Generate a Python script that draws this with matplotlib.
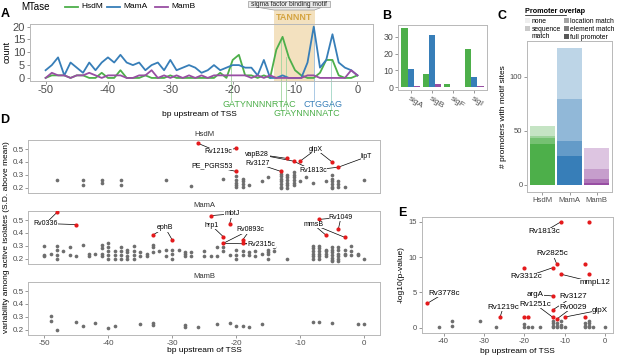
import matplotlib
matplotlib.use('Agg')
import matplotlib.pyplot as plt
import numpy as np
from matplotlib.patches import Polygon, Rectangle
from matplotlib.lines import Line2D

plt.rcParams['font.family'] = ['Liberation Sans', 'DejaVu Sans']
plt.rcParams['axes.unicode_minus'] = False

# ---------------- data ----------------
mtases = ['HsdM', 'MamA', 'MamB']
positions = list(range(-50, 1))
A_hsdm = [0, 1, 1, 1, 0, 1, 1, 0, 0, 2,
          0, 0, 3, 0, 0, 0, 1, 0, 0, 0,
          1, 0, 0, 0, 0, 0, 0, 0, 2, 0,
          7, 9, 1, 1, 0, 1, 0, 11, 16, 8,
          3, 1, 0, 0, 2, 7, 7, 1, 0, 0, 1]
A_mama = [3, 5, 8, 1, 6, 4, 2, 6, 3, 6,
          8, 6, 9, 6, 5, 6, 3, 5, 6, 3,
          7, 3, 4, 5, 4, 2, 3, 5, 3, 4,
          5, 5, 4, 4, 1, 7, 0, 0, 1, 0,
          0, 0, 6, 20, 4, 7, 17, 6, 4, 3, 1]
A_mamb = [0, 2, 1, 1, 0, 1, 1, 2, 1, 0,
          1, 1, 1, 0, 0, 1, 1, 3, 0, 1,
          0, 1, 0, 1, 0, 1, 0, 1, 1, 1,
          1, 1, 1, 0, 1, 0, 1, 0, 0, 0,
          0, 0, 1, 1, 0, 0, 0, 0, 0, 3, 1]
A_xticks = [-50, -40, -30, -20, -10, 0]
A_yticks = [0, 5, 10, 15, 20]

B_sigma = ['sigA', 'sigB', 'sigF', 'sigI']
B_hsdm = [35, 8, 2, 23]
B_mama = [11, 31, 0, 6]
B_mamb = [1, 2, 0, 1]
B_yticks = [0, 10, 20, 30]

C_levels = ['full promoter', 'element match', 'location match', 'sequence match', 'none']
C_alpha = [1.0, 0.775, 0.55, 0.325, 0.1]
C_hsdm = [38, 5, 2, 9, 0]
C_mama = [27, 14, 38, 48, 0]
C_mamb = [2, 3, 10, 19, 0]
C_yticks = [0, 50, 100]

# Panel D: grey points per facet
D_hsdm_grey_x = [-48, -44, -44, -41, -41, -38, -38, -31, -27, -22,
                 -20, -20, -20, -20, -20, -19, -19, -19, -19, -18, -16, -15,
                 -13, -13, -13, -13, -13, -13, -13, -12, -12, -12, -12, -12, -12,
                 -11, -11, -11, -11, -11, -11, -10, -9, -8, -6,
                 -5, -5, -5, -5, -5, -5, -4, -4, -4, -3, 0]
D_hsdm_grey_y = [0.26, 0.26, 0.22, 0.26, 0.24, 0.26, 0.22, 0.26, 0.215, 0.27,
                 0.29, 0.26, 0.24, 0.22, 0.21, 0.27, 0.25, 0.23, 0.21, 0.22, 0.25, 0.28,
                 0.31, 0.29, 0.27, 0.25, 0.23, 0.21, 0.20, 0.30, 0.28, 0.26, 0.24, 0.22, 0.20,
                 0.32, 0.30, 0.28, 0.26, 0.24, 0.22, 0.25, 0.28, 0.24, 0.25,
                 0.30, 0.27, 0.25, 0.23, 0.21, 0.20, 0.25, 0.23, 0.21, 0.21, 0.26]
D_hsdm_red_x = [-26, -20, -20, -13, -12, -11, -10, -5, -4]
D_hsdm_red_y = [0.545, 0.505, 0.327, 0.327, 0.427, 0.406, 0.406, 0.40, 0.36]
D_hsdm_labels = [('Rv1219c', -22.8, 0.479, [0, 1]), ('PE_PGRS53', -23.8, 0.367, [2]),
                 ('Rv3127', -16.7, 0.388, [3]), ('vapB28', -16.7, 0.461, [4, 5]),
                 ('glpX', -7.5, 0.498, [6, 7]), ('Rv1813c', -8.0, 0.336, [5, 8]),
                 ('lipT', 0.4, 0.44, [8])]

D_mama_grey_x = [-50, -50, -50, -49, -48, -48, -48, -48, -47, -46, -46, -45, -44, -43, -43, -42,
                 -41, -41, -41, -41, -40, -40, -40, -40, -40, -39, -39, -39,
                 -38, -38, -38, -38, -37, -37, -37, -37, -36, -36, -36, -36, -35, -35, -34, -34,
                 -33, -33, -33, -32, -31, -31, -30, -30, -30, -29, -28, -28, -28, -27, -27,
                 -25, -25, -24, -23, -23, -22, -22, -21, -20, -20, -20, -19, -19, -18, -18,
                 -17, -17, -16, -15, -15, -15, -15, -14, -14, -12,
                 -8, -8, -8, -8, -8, -8, -7, -7, -7, -7, -7, -7, -6, -6, -6, -6,
                 -5, -5, -5, -5, -5, -5, -5, -4, -4, -4, -4, -4, -4, -3, -3, -3,
                 -2, -2, -2, -1, -1, 0]
D_mama_grey_y = [0.30, 0.23, 0.22, 0.24, 0.30, 0.27, 0.23, 0.20, 0.26, 0.29, 0.23, 0.22, 0.31, 0.24, 0.22, 0.235,
                 0.31, 0.28, 0.24, 0.22, 0.32, 0.29, 0.26, 0.23, 0.20, 0.26, 0.23, 0.20,
                 0.29, 0.26, 0.23, 0.20, 0.27, 0.25, 0.22, 0.20, 0.30, 0.26, 0.23, 0.20, 0.25, 0.22, 0.24, 0.22,
                 0.31, 0.29, 0.25, 0.26, 0.27, 0.22, 0.27, 0.24, 0.20, 0.27, 0.25, 0.235, 0.22, 0.25, 0.225,
                 0.26, 0.225, 0.22, 0.22, 0.29, 0.29, 0.26, 0.23, 0.27, 0.23, 0.20, 0.26, 0.23, 0.25, 0.23,
                 0.26, 0.22, 0.24, 0.27, 0.25, 0.24, 0.20, 0.29, 0.26, 0.20,
                 0.30, 0.28, 0.26, 0.24, 0.22, 0.20, 0.30, 0.28, 0.26, 0.24, 0.22, 0.20, 0.27, 0.26, 0.24, 0.22,
                 0.29, 0.27, 0.25, 0.23, 0.21, 0.19, 0.18, 0.29, 0.27, 0.24, 0.22, 0.20, 0.18, 0.27, 0.24, 0.23,
                 0.30, 0.26, 0.23, 0.24, 0.23, 0.20]
D_mama_red_x = [-48, -45, -33, -30, -24, -21, -22, -22, -19, -19, -7, -4, -6, -3]
D_mama_red_y = [0.56, 0.465, 0.385, 0.347, 0.534, 0.473, 0.371, 0.32, 0.345, 0.32, 0.505, 0.433, 0.385, 0.366]
D_mama_labels = [('Rv0336', -49.8, 0.473, [0, 1]), ('ephB', -31.1, 0.441, [2, 3]),
                 ('mbtJ', -20.6, 0.548, [4, 5]), ('hrp1', -23.9, 0.46, [6]),
                 ('Rv0893c', -17.8, 0.425, [7, 8]), ('Rv2315c', -16.0, 0.313, [7, 9]),
                 ('Rv1049', -3.6, 0.521, [10, 11]), ('mmsB', -7.9, 0.465, [12, 13])]

D_mamb_grey_x = [-49, -49, -48, -45, -44, -42, -40, -39, -35, -33, -33, -28, -28, -26,
                 -23, -21, -20, -19, -18, -16, -8, -7, -5, -1, 0]
D_mamb_grey_y = [0.307, 0.272, 0.20, 0.259, 0.227, 0.25, 0.213, 0.227, 0.246, 0.25, 0.24, 0.24, 0.22, 0.22,
                 0.246, 0.25, 0.227, 0.232, 0.22, 0.246, 0.259, 0.259, 0.25, 0.246, 0.246]
D_yticks = [0.2, 0.3, 0.4, 0.5]
D_xticks = [-50, -40, -30, -20, -10, 0]

E_grey_x = [-41, -38, -38, -31, -27, -20, -20, -19, -18, -16, -13, -13, -13, -13, -12, -12, -12,
            -11, -11, -11, -10, -5, -5, -5, -4, -4, -4, -4, -3, 0]
E_grey_y = [0.1, 1.0, 0.2, 1.0, 0.1, 0.5, 0.1, 0.1, 0.1, 0.1, 0.9, 0.6, 0.3, 0.05, 0.6, 0.3, 0.05,
            0.9, 0.4, 0.05, 0.1, 0.6, 0.3, 0.05, 1.0, 0.6, 0.3, 0.05, 0.1, 0.05]
E_red_x = [-11, -4, -12, -13, -20, -5, -11, -4, -44, -13, -13, -26, -20, -19, -13, -12, -10, -5]
E_red_y = [15, 15, 9.1, 8.5, 8.5, 9.1, 7.6, 7.6, 3.45, 4.5, 2.5, 1.5, 1.5, 1.5, 1.5, 1.2, 1.5, 1.5]
E_labels = [('Rv1813c', -15.1, 13.6, 0), ('Rv2825c', -13.0, 10.5, 2), ('Rv3312c', -19.6, 7.2, 3),
            ('mmpL12', -2.5, 6.4, 6), ('Rv3778c', -39.8, 4.9, 8), ('argA', -17.3, 4.7, 9),
            ('Rv3127', -7.9, 4.4, 10), ('Rv1251c', -17.3, 3.35, 14), ('Rv0029', -8.0, 2.9, 15),
            ('Rv1219c', -25.2, 2.9, 11), ('glpX', -1.2, 2.5, 16)]
E_xticks = [-40, -30, -20, -10, 0]
E_yticks = [0, 5, 10, 15]

# ---------------- helpers ----------------
W, H = 617, 356
fig = plt.figure(figsize=(W / 100, H / 100), dpi=100)

GREEN = '#4DAF4A'; BLUE = '#377EB8'; PURPLE = '#984EA3'; RED = '#E41A1C'; GREY = '#6e6e6e'
TXT = '#4d4d4d'


def axpx(l, t, r, b):
    return fig.add_axes([l / W, 1 - b / H, (r - l) / W, (b - t) / H])


def P(x, y):
    return (x / W, 1 - y / H)


def ftext(x, y, s, **kw):
    return fig.text(x / W, 1 - y / H, s, **kw)


def style(ax, fs):
    for s in ax.spines.values():
        s.set_color('#b8b8b8')
        s.set_linewidth(0.7)
    ax.tick_params(length=2, width=0.5, color='#707070', labelcolor=TXT, labelsize=fs, pad=1.5)


# ---------------- Panel A ----------------
axA = axpx(30, 24, 373, 80.5)
style(axA, 8)
axA.set_xlim(-52.5, 2.5)
axA.set_ylim(-1, 21)
axA.axvspan(-13.3, -6.8, ymin=0, ymax=(80.5 - 10) / (80.5 - 24), color='#f3e1bf',
            lw=0, zorder=0, clip_on=False)
# guide lines to motifs
for gx, gy0, gy1, gc in [(-20.2, 5, -8.6, '#9fd49d'), (-12.2, 15, -12.5, '#9fd49d'),
                         (-11.4, 8, -12.5, '#9fd49d'), (-7, 20, -8.6, '#9cc0e0'),
                         (-4.2, 7, -12.5, '#9fd4c4')]:
    axA.plot([gx, gx], [gy0, gy1], color=gc, lw=0.6, clip_on=False, zorder=1)
axA.plot(positions, A_hsdm, color=GREEN, lw=1.3, zorder=3)
axA.plot(positions, A_mama, color=BLUE, lw=1.3, zorder=3)
axA.plot(positions, A_mamb, color=PURPLE, lw=1.3, zorder=4)
axA.set_xticks(A_xticks)
axA.set_xticklabels([str(v) for v in A_xticks])
axA.set_yticks(A_yticks)
axA.set_yticklabels([str(v) for v in A_yticks])
axA.set_ylabel('count', fontsize=6.5, color='black', labelpad=1)
axA.yaxis.set_label_coords(-0.055, 0.5)

# legend A
ftext(21, 7, 'MTase', fontsize=7, va='center', ha='left')
for (x0, txt, c) in [(65, 'HsdM', GREEN), (107, 'MamA', BLUE), (155, 'MamB', PURPLE)]:
    fig.add_artist(Line2D([x0 / W, (x0 + 13) / W], [1 - 7 / H, 1 - 7 / H], color=c, lw=1.3))
    ftext(x0 + 16, 7, txt, fontsize=6, va='center', ha='left')

# callout
fig.add_artist(Polygon([P(258, 7.3), P(321.7, 7.3), P(314.5, 10), P(274, 10)], closed=True,
                       facecolor='#ececec', edgecolor='#9a9a9a', lw=0.5, transform=fig.transFigure))
fig.add_artist(Rectangle(P(248.3, 7.3), 81.7 / W, 6.6 / H, facecolor='#ececec',
                         edgecolor='#9a9a9a', lw=0.5, transform=fig.transFigure))
ftext(289, 4.1, 'sigma factor binding motif', fontsize=4.8, ha='center', va='center', color='#222222')
ftext(293.7, 17, 'TANNNT', fontsize=6.5, ha='center', va='center', color='#d4a441', fontweight='bold')

# motifs & x label
ftext(259, 104.3, 'GATYNNNNRTAC', fontsize=6.5, ha='center', va='center', color=GREEN)
ftext(322.5, 104.3, 'CTGGAG', fontsize=6.5, ha='center', va='center', color=BLUE)
ftext(306.7, 114, 'GTAYNNNNATC', fontsize=6.5, ha='center', va='center', color=GREEN)
ftext(199, 114, 'bp upstream of TSS', fontsize=6, ha='center', va='center')

# ---------------- Panel B ----------------
axB = axpx(398.3, 25.3, 486.7, 90.3)
style(axB, 6.3)
xb = np.arange(1, len(B_sigma) + 1)
axB.bar(xb - 0.3, B_hsdm, width=0.3, color=GREEN, lw=0)
axB.bar(xb, B_mama, width=0.3, color=BLUE, lw=0)
axB.bar(xb + 0.3, B_mamb, width=0.3, color=PURPLE, lw=0)
axB.set_xlim(0.4, 4.6)
axB.set_ylim(-1.75, 36.75)
axB.set_yticks(B_yticks)
axB.set_yticklabels([str(v) for v in B_yticks])
axB.set_xticks(xb)
axB.set_xticklabels(B_sigma, rotation=-33, ha='left', va='top', rotation_mode='anchor', fontsize=6)

# ---------------- Panel C ----------------
axC = axpx(527.3, 40.7, 611.7, 191.7)
style(axC, 5.5)
xc = np.arange(1, 4)
for vals, col, xi in [(C_hsdm, GREEN, 1), (C_mama, BLUE, 2), (C_mamb, PURPLE, 3)]:
    bottom = 0
    for v, a in zip(vals, C_alpha):
        axC.bar(xi, v, bottom=bottom, width=0.9, color=col, alpha=a, lw=0)
        bottom += v
axC.set_xlim(0.45, 3.55)
axC.set_ylim(-6.35, 133.35)
axC.set_yticks(C_yticks)
axC.set_yticklabels([str(v) for v in C_yticks])
axC.set_xticks(xc)
axC.set_xticklabels(mtases, fontsize=5.5)
axC.set_ylabel('# promoters with motif sites', fontsize=6, labelpad=2)

# legend C
ftext(525, 11.5, 'Promoter overlap', fontsize=5.2, fontweight='bold', ha='left', va='center')
fig.add_artist(Line2D([525 / W, 566 / W], [1 - 15 / H, 1 - 15 / H], color='black', lw=0.5))
leg_items = [('none', 0.1, 525, 20.5), ('sequence\nmatch', 0.325, 525, 28.7),
             ('location match', 0.55, 564, 20.5), ('element match', 0.775, 564, 28.7),
             ('full promoter', 1.0, 564, 36.7)]
for txt, a, lx, ly in leg_items:
    fig.add_artist(Rectangle(P(lx, ly + 2.2), 4.5 / W, 4.4 / H, facecolor='#595959', alpha=a,
                             lw=0, transform=fig.transFigure))
    ftext(lx + 6.5, ly - 2.6, txt, fontsize=4.9, ha='left', va='top', linespacing=0.95)

# ---------------- Panel D ----------------
D_boxes = [(140, 193), (211, 264), (282, 335)]
facet_grey = [(D_hsdm_grey_x, D_hsdm_grey_y), (D_mama_grey_x, D_mama_grey_y), (D_mamb_grey_x, D_mamb_grey_y)]
facet_red = [(D_hsdm_red_x, D_hsdm_red_y, D_hsdm_labels), (D_mama_red_x, D_mama_red_y, D_mama_labels), None]
for i, (t, b) in enumerate(D_boxes):
    ax = axpx(28.3, t, 380, b)
    style(ax, 5.8)
    ax.set_xlim(-52.5, 2.5)
    ax.set_ylim(0.16, 0.57)
    ax.set_yticks(D_yticks)
    ax.set_yticklabels([str(v) for v in D_yticks])
    ax.set_xticks(D_xticks)
    if i < 2:
        ax.tick_params(axis='x', length=0, labelbottom=False)
    else:
        ax.set_xticklabels([str(v) for v in D_xticks])
    gx, gy = facet_grey[i]
    ax.scatter(gx, gy, s=7, color=GREY, lw=0, zorder=2)
    if facet_red[i] is not None:
        rx, ry, labs = facet_red[i]
        for txt, tx, ty, idxs in labs:
            for k in idxs:
                ax.plot([rx[k], tx], [ry[k], ty], color='black', lw=0.5, zorder=3)
            ax.text(tx, ty, txt, fontsize=5, ha='center', va='center', zorder=5,
                    bbox=dict(boxstyle='square,pad=0.05', fc='white', ec='none'))
        ax.scatter(rx, ry, s=9, color=RED, lw=0, zorder=4)
    ax.set_title(mtases[i], fontsize=5.5, color='#333333', pad=3)
ftext(204, 350.7, 'bp upstream of TSS', fontsize=6, ha='center', va='center')
ftext(6.5, 237.5, 'variability among active isolates (S.D. above mean)', fontsize=6,
      ha='center', va='center', rotation=90)

# ---------------- Panel E ----------------
axE = axpx(421.7, 216.7, 613.3, 333.3)
style(axE, 5.5)
axE.set_xlim(-45.4, 2.05)
axE.set_ylim(-0.8, 15.75)
axE.scatter(E_grey_x, E_grey_y, s=7, color=GREY, lw=0, zorder=2)
for txt, tx, ty, k in E_labels:
    axE.plot([E_red_x[k], tx], [E_red_y[k], ty], color='black', lw=0.5, zorder=3)
    axE.text(tx, ty, txt, fontsize=5.8, ha='center', va='center', zorder=5,
             bbox=dict(boxstyle='square,pad=0.05', fc='white', ec='none'))
axE.scatter(E_red_x, E_red_y, s=9, color=RED, lw=0, zorder=4)
axE.set_xticks(E_xticks)
axE.set_xticklabels([str(v) for v in E_xticks])
axE.set_yticks(E_yticks)
axE.set_yticklabels([str(v) for v in E_yticks])
axE.set_xlabel('bp upstream of TSS', fontsize=6, labelpad=2)
axE.set_ylabel('-log10(p-value)', fontsize=6, labelpad=3)

# panel letters
for let, x, y in [('A', 5, 14), ('B', 387, 16), ('C', 502, 16), ('D', 5, 120), ('E', 402, 213)]:
    ftext(x, y, let, fontsize=9, fontweight='bold', ha='center', va='center')

fig.savefig('out.png', dpi=100)
